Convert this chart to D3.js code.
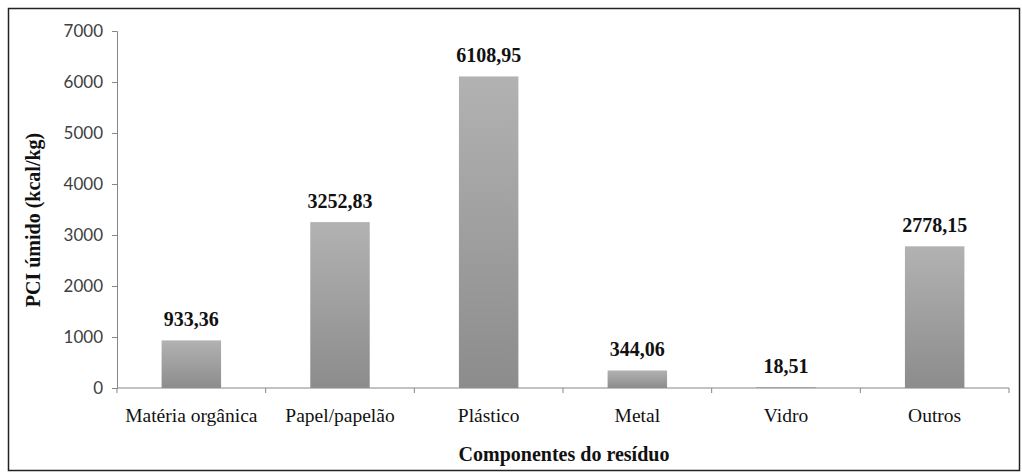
<!DOCTYPE html>
<html lang="pt">
<head>
  <meta charset="UTF-8">
  <title>PCI úmido</title>
  <style>
    body { margin: 0; background: #fff; }
    svg { display: block; }
  </style>
</head>
<body>
  <section class="plot"></section>

  <script src="https://cdn.jsdelivr.net/npm/d3@7"></script>
  <script>
    // Data
    const categories = ["Matéria orgânica", "Papel/papelão", "Plástico", "Metal", "Vidro", "Outros"];
    const values = [933.36, 3252.83, 6108.95, 344.06, 18.51, 2778.15];
    const valueLabels = ["933,36", "3252,83", "6108,95", "344,06", "18,51", "2778,15"];
    const yTicks = [0, 1000, 2000, 3000, 4000, 5000, 6000, 7000];

    const width = 1022, height = 473;
    const margin = { left: 117, right: 13, top: 31, bottom: 84 };
    const serif = "'Liberation Serif', 'Times New Roman', serif";

    const svg = d3.select(".plot")
      .append("svg")
      .attr("width", width)
      .attr("height", height);

    // gradient for bars
    const grad = svg.append("defs").append("linearGradient")
      .attr("id", "barGrad")
      .attr("x1", 0).attr("y1", 0).attr("x2", 0).attr("y2", 1);
    grad.append("stop").attr("offset", "0%").attr("stop-color", "#b2b2b2");
    grad.append("stop").attr("offset", "100%").attr("stop-color", "#8c8c8c");

    // outer frame
    svg.append("rect")
      .attr("x", 8.5).attr("y", 8.5)
      .attr("width", width - 11).attr("height", height - 11)
      .attr("fill", "none")
      .attr("stroke", "#222")
      .attr("stroke-width", 1.5);

    const x = d3.scaleBand()
      .domain(categories)
      .range([margin.left, width - margin.right])
      .paddingInner(0.6)
      .paddingOuter(0.3);

    const y = d3.scaleLinear()
      .domain([0, 7000])
      .range([388, margin.top]);

    // y axis
    const yAxis = svg.append("g")
      .attr("transform", `translate(${margin.left},0)`)
      .call(d3.axisLeft(y).tickValues(yTicks).tickSize(5).tickPadding(9).tickFormat(d3.format("d")));
    yAxis.select(".domain").attr("stroke", "#868686");
    yAxis.selectAll(".tick line").attr("stroke", "#868686");
    yAxis.selectAll("text")
      .attr("fill", "#404040")
      .style("font-family", "Lato, 'Open Sans', sans-serif")
      .style("font-size", "17px");

    // x axis with ticks between categories
    const x0 = margin.left, x1 = width - margin.right;
    const step = (x1 - x0) / categories.length;
    const xAxisG = svg.append("g").attr("transform", `translate(0,${y(0)})`);
    xAxisG.append("line")
      .attr("x1", x0).attr("x2", x1)
      .attr("stroke", "#868686");
    xAxisG.selectAll(".sep")
      .data(d3.range(categories.length + 1))
      .enter()
      .append("line")
        .attr("x1", i => x0 + i * step)
        .attr("x2", i => x0 + i * step)
        .attr("y1", 0).attr("y2", 5)
        .attr("stroke", "#868686");
    xAxisG.selectAll(".cat")
      .data(categories)
      .enter()
      .append("text")
        .attr("x", d => x(d) + x.bandwidth() / 2)
        .attr("y", 34)
        .attr("text-anchor", "middle")
        .attr("fill", "#111")
        .style("font-family", serif)
        .style("font-size", "19.5px")
        .text(d => d);

    // bars
    svg.append("g")
      .selectAll("rect")
      .data(values)
      .enter()
      .append("rect")
        .attr("x", (d, i) => x(categories[i]))
        .attr("y", d => y(d))
        .attr("width", x.bandwidth())
        .attr("height", d => y(0) - y(d))
        .attr("fill", "url(#barGrad)");

    // value labels
    svg.append("g")
      .selectAll("text")
      .data(values)
      .enter()
      .append("text")
        .attr("x", (d, i) => x(categories[i]) + x.bandwidth() / 2)
        .attr("y", d => y(d) - 14)
        .attr("text-anchor", "middle")
        .attr("fill", "#111")
        .style("font-family", serif)
        .style("font-size", "20px")
        .style("font-weight", "bold")
        .text((d, i) => valueLabels[i]);

    // axis titles
    svg.append("text")
      .attr("transform", "translate(33,220) rotate(-90)")
      .attr("text-anchor", "middle")
      .attr("dy", "0.35em")
      .attr("fill", "#111")
      .style("font-family", serif)
      .style("font-size", "20px")
      .style("font-weight", "bold")
      .text("PCI úmido (kcal/kg)");

    svg.append("text")
      .attr("x", 564)
      .attr("y", 461)
      .attr("text-anchor", "middle")
      .attr("fill", "#111")
      .style("font-family", serif)
      .style("font-size", "20px")
      .style("font-weight", "bold")
      .text("Componentes do resíduo");
  </script>
</body>
</html>
